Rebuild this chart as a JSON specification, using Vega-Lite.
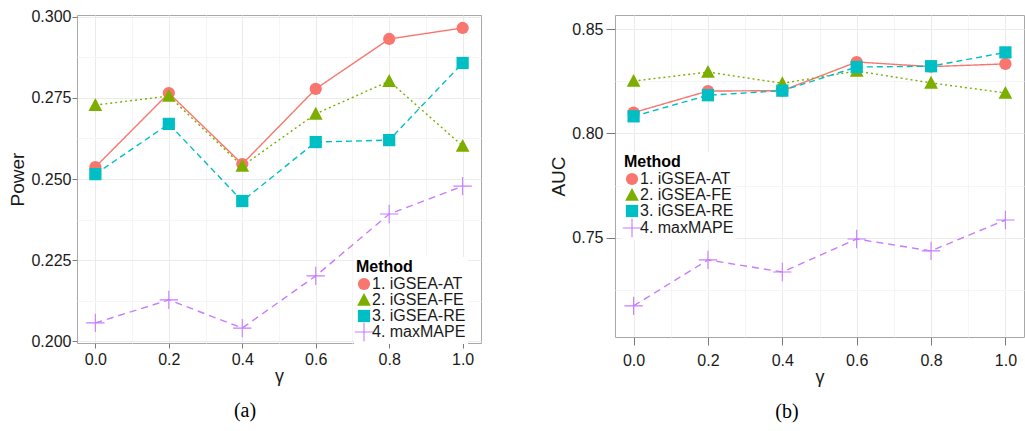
{
  "$schema": "https://vega.github.io/schema/vega-lite/v6.json",
  "background": "white",
  "padding": {"left": 8, "top": 8, "right": 2, "bottom": 0},
  "config": {
    "font": "Arial",
    "view": {"stroke": "#A8A8A8", "strokeWidth": 1},
    "axis": {
      "labelFont": "Arial",
      "labelFontSize": 16,
      "labelColor": "#1a1a1a",
      "titleFont": "Arial",
      "titleFontWeight": "normal",
      "titleColor": "#1a1a1a",
      "domain": false,
      "tickColor": "#7a7a7a",
      "gridColor": "#EBEBEB",
      "gridWidth": 1
    },
    "legend": {
      "titleFont": "Arial",
      "labelFont": "Arial",
      "titleFontSize": 16,
      "titleFontWeight": "bold",
      "titleColor": "#000",
      "titlePadding": 1,
      "labelFontSize": 16,
      "labelColor": "#1a1a1a",
      "fillColor": "white",
      "padding": 2,
      "rowPadding": -1,
      "symbolSize": 150,
      "labelOffset": 0,
      "symbolStrokeWidth": 0,
      "labelLimit": 300
    }
  },
  "resolve": {
    "scale": {"fill": "independent", "shape": "independent", "stroke": "independent", "strokeDash": "independent"},
    "legend": {"fill": "independent", "shape": "independent", "stroke": "independent", "strokeDash": "independent"}
  },
  "datasets": {
    "power": [
      {"Method": "1. iGSEA-AT", "gamma": 0.0, "value": 0.2537},
      {"Method": "1. iGSEA-AT", "gamma": 0.2, "value": 0.2765},
      {"Method": "1. iGSEA-AT", "gamma": 0.4, "value": 0.2546},
      {"Method": "1. iGSEA-AT", "gamma": 0.6, "value": 0.2778},
      {"Method": "1. iGSEA-AT", "gamma": 0.8, "value": 0.2932},
      {"Method": "1. iGSEA-AT", "gamma": 1.0, "value": 0.2966},
      {"Method": "2. iGSEA-FE", "gamma": 0.0, "value": 0.2728},
      {"Method": "2. iGSEA-FE", "gamma": 0.2, "value": 0.2756},
      {"Method": "2. iGSEA-FE", "gamma": 0.4, "value": 0.2540},
      {"Method": "2. iGSEA-FE", "gamma": 0.6, "value": 0.2701},
      {"Method": "2. iGSEA-FE", "gamma": 0.8, "value": 0.2802},
      {"Method": "2. iGSEA-FE", "gamma": 1.0, "value": 0.2602},
      {"Method": "3. iGSEA-RE", "gamma": 0.0, "value": 0.2515},
      {"Method": "3. iGSEA-RE", "gamma": 0.2, "value": 0.2670},
      {"Method": "3. iGSEA-RE", "gamma": 0.4, "value": 0.2432},
      {"Method": "3. iGSEA-RE", "gamma": 0.6, "value": 0.2614},
      {"Method": "3. iGSEA-RE", "gamma": 0.8, "value": 0.2620},
      {"Method": "3. iGSEA-RE", "gamma": 1.0, "value": 0.2858},
      {"Method": "4. maxMAPE", "gamma": 0.0, "value": 0.2056},
      {"Method": "4. maxMAPE", "gamma": 0.2, "value": 0.2127},
      {"Method": "4. maxMAPE", "gamma": 0.4, "value": 0.2040},
      {"Method": "4. maxMAPE", "gamma": 0.6, "value": 0.2201},
      {"Method": "4. maxMAPE", "gamma": 0.8, "value": 0.2392},
      {"Method": "4. maxMAPE", "gamma": 1.0, "value": 0.2478}
    ],
    "auc": [
      {"Method": "1. iGSEA-AT", "gamma": 0.0, "value": 0.8100},
      {"Method": "1. iGSEA-AT", "gamma": 0.2, "value": 0.8203},
      {"Method": "1. iGSEA-AT", "gamma": 0.4, "value": 0.8205},
      {"Method": "1. iGSEA-AT", "gamma": 0.6, "value": 0.8342},
      {"Method": "1. iGSEA-AT", "gamma": 0.8, "value": 0.8320},
      {"Method": "1. iGSEA-AT", "gamma": 1.0, "value": 0.8333},
      {"Method": "2. iGSEA-FE", "gamma": 0.0, "value": 0.8251},
      {"Method": "2. iGSEA-FE", "gamma": 0.2, "value": 0.8294},
      {"Method": "2. iGSEA-FE", "gamma": 0.4, "value": 0.8240},
      {"Method": "2. iGSEA-FE", "gamma": 0.6, "value": 0.8299},
      {"Method": "2. iGSEA-FE", "gamma": 0.8, "value": 0.8242},
      {"Method": "2. iGSEA-FE", "gamma": 1.0, "value": 0.8194},
      {"Method": "3. iGSEA-RE", "gamma": 0.0, "value": 0.8082},
      {"Method": "3. iGSEA-RE", "gamma": 0.2, "value": 0.8183},
      {"Method": "3. iGSEA-RE", "gamma": 0.4, "value": 0.8205},
      {"Method": "3. iGSEA-RE", "gamma": 0.6, "value": 0.8318},
      {"Method": "3. iGSEA-RE", "gamma": 0.8, "value": 0.8322},
      {"Method": "3. iGSEA-RE", "gamma": 1.0, "value": 0.8388},
      {"Method": "4. maxMAPE", "gamma": 0.0, "value": 0.7175},
      {"Method": "4. maxMAPE", "gamma": 0.2, "value": 0.7395},
      {"Method": "4. maxMAPE", "gamma": 0.4, "value": 0.7337},
      {"Method": "4. maxMAPE", "gamma": 0.6, "value": 0.7495},
      {"Method": "4. maxMAPE", "gamma": 0.8, "value": 0.7438},
      {"Method": "4. maxMAPE", "gamma": 1.0, "value": 0.7586}
    ]
  },
  "bounds": "flush",
  "spacing": 134,
  "hconcat": [
    {
      "data": {"name": "power"},
      "width": 404,
      "height": 328,
      "title": {"text": "(a)", "orient": "bottom", "font": "Liberation Serif", "fontSize": 20, "fontWeight": "normal", "color": "#000", "offset": 16, "anchor": "middle", "frame": "bounds"},
      "resolve": {"axis": {"x": "independent", "y": "independent"}},
      "layer": [
        {
          "mark": {"type": "line", "strokeWidth": 1.4},
          "encoding": {
            "x": {"field": "gamma", "type": "quantitative", "scale": {"domain": [-0.05, 1.05], "nice": false, "zero": false},
                  "axis": {"orient": "bottom", "values": [0, 0.2, 0.4, 0.6, 0.8, 1.0], "format": ".1f", "title": "γ", "titleFontSize": 18, "titlePadding": 0, "tickSize": 5, "labelPadding": 3, "grid": true}},
            "y": {"field": "value", "type": "quantitative", "scale": {"domain": [0.1994, 0.3006], "nice": false, "zero": false},
                  "axis": {"orient": "left", "values": [0.2, 0.225, 0.25, 0.275, 0.3], "format": ".3f", "title": "Power", "titleFontSize": 19, "titlePadding": 3, "tickSize": 5, "labelPadding": 1, "grid": true}},
            "stroke": {"field": "Method", "type": "nominal", "title": "Method",
                       "scale": {"domain": ["1. iGSEA-AT", "2. iGSEA-FE", "3. iGSEA-RE", "4. maxMAPE"], "range": ["#F8766D", "#7CAE00", "#00BFC4", "#C77CFF"]}},
            "strokeDash": {"field": "Method", "type": "nominal", "title": "Method",
                           "scale": {"domain": ["1. iGSEA-AT", "2. iGSEA-FE", "3. iGSEA-RE", "4. maxMAPE"], "range": [[1, 0], [2, 3], [6, 4], [7, 5]]}}
          }
        },
        {
          "mark": {"type": "point", "filled": true, "size": 150, "opacity": 1, "strokeWidth": 0},
          "encoding": {
            "x": {"field": "gamma", "type": "quantitative",
                  "axis": {"orient": "top", "values": [0.1, 0.3, 0.5, 0.7, 0.9], "grid": true, "gridColor": "#F5F5F5", "labels": false, "ticks": false, "domain": false, "title": null}},
            "y": {"field": "value", "type": "quantitative",
                  "axis": {"orient": "right", "values": [0.2125, 0.2375, 0.2625, 0.2875], "grid": true, "gridColor": "#F5F5F5", "labels": false, "ticks": false, "domain": false, "title": null}},
            "fill": {"field": "Method", "type": "nominal", "title": "Method",
                     "scale": {"domain": ["1. iGSEA-AT", "2. iGSEA-FE", "3. iGSEA-RE", "4. maxMAPE"], "range": ["#F8766D", "#7CAE00", "#00BFC4", "#C77CFF"]},
                     "legend": {"orient": "none", "legendX": 277, "legendY": 242, "labelFontSize": 16, "rowPadding": -2}},
            "shape": {"field": "Method", "type": "nominal", "title": "Method",
                      "scale": {"domain": ["1. iGSEA-AT", "2. iGSEA-FE", "3. iGSEA-RE", "4. maxMAPE"], "range": ["circle", "M0,-1.15L1.12,0.95L-1.12,0.95Z", "square", "M-1.5,-0.09H-0.09V-1.5H0.09V-0.09H1.5V0.09H0.09V1.5H-0.09V0.09H-1.5Z"]}}
          }
        }
      ]
    },
    {
      "data": {"name": "auc"},
      "width": 409,
      "height": 322,
      "title": {"text": "(b)", "orient": "bottom", "font": "Liberation Serif", "fontSize": 20, "fontWeight": "normal", "color": "#000", "offset": 16, "anchor": "middle", "frame": "bounds"},
      "resolve": {"axis": {"x": "independent", "y": "independent"}},
      "layer": [
        {
          "mark": {"type": "line", "strokeWidth": 1.4},
          "encoding": {
            "x": {"field": "gamma", "type": "quantitative", "scale": {"domain": [-0.05, 1.05], "nice": false, "zero": false},
                  "axis": {"orient": "bottom", "values": [0, 0.2, 0.4, 0.6, 0.8, 1.0], "format": ".1f", "title": "γ", "titleFontSize": 18, "titlePadding": 0, "tickSize": 8, "labelPadding": 7, "grid": true}},
            "y": {"field": "value", "type": "quantitative", "scale": {"domain": [0.7026, 0.8567], "nice": false, "zero": false},
                  "axis": {"orient": "left", "values": [0.75, 0.8, 0.85], "format": ".2f", "title": "AUC", "titleFontSize": 19, "titlePadding": 3, "tickSize": 9, "labelPadding": 3, "grid": true}},
            "stroke": {"field": "Method", "type": "nominal", "title": "Method",
                       "scale": {"domain": ["1. iGSEA-AT", "2. iGSEA-FE", "3. iGSEA-RE", "4. maxMAPE"], "range": ["#F8766D", "#7CAE00", "#00BFC4", "#C77CFF"]}},
            "strokeDash": {"field": "Method", "type": "nominal", "title": "Method",
                           "scale": {"domain": ["1. iGSEA-AT", "2. iGSEA-FE", "3. iGSEA-RE", "4. maxMAPE"], "range": [[1, 0], [2, 3], [6, 4], [7, 5]]}}
          }
        },
        {
          "mark": {"type": "point", "filled": true, "size": 150, "opacity": 1, "strokeWidth": 0},
          "encoding": {
            "x": {"field": "gamma", "type": "quantitative",
                  "axis": {"orient": "top", "values": [0.1, 0.3, 0.5, 0.7, 0.9], "grid": true, "gridColor": "#F5F5F5", "labels": false, "ticks": false, "domain": false, "title": null}},
            "y": {"field": "value", "type": "quantitative",
                  "axis": {"orient": "right", "values": [0.725, 0.775, 0.825], "grid": true, "gridColor": "#F5F5F5", "labels": false, "ticks": false, "domain": false, "title": null}},
            "fill": {"field": "Method", "type": "nominal", "title": "Method",
                     "scale": {"domain": ["1. iGSEA-AT", "2. iGSEA-FE", "3. iGSEA-RE", "4. maxMAPE"], "range": ["#F8766D", "#7CAE00", "#00BFC4", "#C77CFF"]},
                     "legend": {"orient": "none", "legendX": 7, "legendY": 137, "labelFontSize": 16, "rowPadding": -1}},
            "shape": {"field": "Method", "type": "nominal", "title": "Method",
                      "scale": {"domain": ["1. iGSEA-AT", "2. iGSEA-FE", "3. iGSEA-RE", "4. maxMAPE"], "range": ["circle", "M0,-1.15L1.12,0.95L-1.12,0.95Z", "square", "M-1.5,-0.09H-0.09V-1.5H0.09V-0.09H1.5V0.09H0.09V1.5H-0.09V0.09H-1.5Z"]}}
          }
        }
      ]
    }
  ]
}
